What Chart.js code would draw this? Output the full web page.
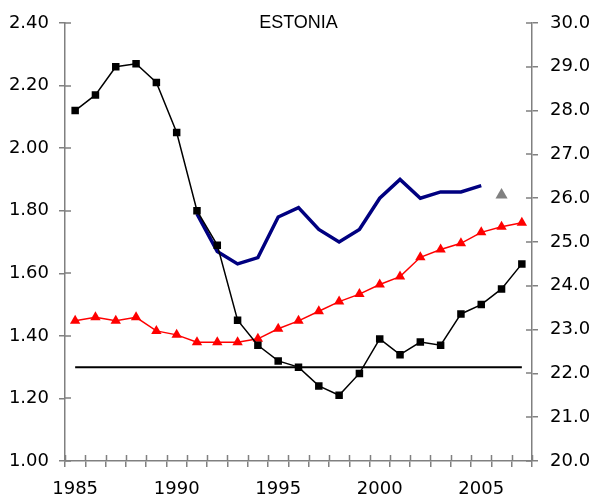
<!DOCTYPE html>
<html><head><meta charset="utf-8">
<script src="https://cdn.jsdelivr.net/npm/chart.js@4"></script>
<style>html,body{margin:0;padding:0;background:#fff}canvas{display:block}</style>
</head><body>
<canvas id="c" width="592" height="500"></canvas>
<script>
const title = 'ESTONIA';
const years = ['1985','1986','1987','1988','1989','1990','1991','1992','1993','1994','1995','1996','1997','1998','1999','2000','2001','2002','2003','2004','2005','2006','2007'];
const tfr = [2.12,2.17,2.26,2.27,2.21,2.05,1.80,1.69,1.45,1.37,1.32,1.30,1.24,1.21,1.28,1.39,1.34,1.38,1.37,1.47,1.50,1.55,1.63];
const adjTfr = [null,null,null,null,null,null,1.79,1.67,1.63,1.65,1.78,1.81,1.74,1.70,1.74,1.84,1.90,1.84,1.86,1.86,1.88,null,null];
const adjTfrLatest = [null,null,null,null,null,null,null,null,null,null,null,null,null,null,null,null,null,null,null,null,null,1.85,null];
const meanAge = [23.20,23.28,23.20,23.28,22.97,22.88,22.71,22.71,22.71,22.79,23.02,23.20,23.42,23.64,23.81,24.03,24.21,24.65,24.83,24.97,25.22,25.35,25.44];
const replacementLevel = 1.3;
const replacementSpan = [years[0], years[years.length-1]];
const leftTicks = {min:1.0, max:2.4, step:0.2};
const rightTicks = {min:20, max:30, step:1};

const FONT = "'DejaVu Sans', 'Liberation Sans', Arial, sans-serif";
const TITLE_FONT = "'Liberation Sans', Arial, sans-serif";
const AXIS = '#808080';

const decor = {
  id:'decor',
  afterDraw(chart){
    const ctx = chart.ctx, a = chart.chartArea;
    const x = chart.scales.x, y = chart.scales.y, y1 = chart.scales.y1;
    ctx.save();
    ctx.strokeStyle = AXIS; ctx.lineWidth = 1.5;
    ctx.beginPath();
    for (let i = 0; i <= years.length; i++) {
      const px = Math.round(x.getPixelForValue(i - 0.5)) + 0.5;
      ctx.moveTo(px, a.bottom); ctx.lineTo(px, a.bottom - 6);
    }
    y.ticks.forEach(t => { const py = Math.round(y.getPixelForValue(t.value)); ctx.moveTo(a.left, py); ctx.lineTo(a.left + 6, py); });
    y1.ticks.forEach(t => { const py = Math.round(y1.getPixelForValue(t.value)); ctx.moveTo(a.right, py); ctx.lineTo(a.right - 6, py); });
    ctx.stroke();
    ctx.fillStyle = '#000';
    ctx.font = '18px ' + TITLE_FONT;
    ctx.textAlign = 'center'; ctx.textBaseline = 'alphabetic';
    ctx.fillText(title, (a.left + a.right) / 2, 28);
    ctx.restore();
  }
};

new Chart(document.getElementById('c'), {
  type: 'line',
  data: {
    labels: years,
    datasets: [
      { data: tfr, yAxisID:'y', borderColor:'#000', backgroundColor:'#000', borderWidth:1.5,
        pointStyle:'rect', pointRadius:5.3, pointBorderWidth:0, tension:0 },
      { data: adjTfr, yAxisID:'y', borderColor:'#000080', borderWidth:3.5, pointRadius:0, tension:0 },
      { data: meanAge, yAxisID:'y1', borderColor:'#ff0000', backgroundColor:'#ff0000', borderWidth:1.5,
        pointStyle:'triangle', pointRadius:6, pointBorderWidth:0, tension:0 },
      { data: adjTfrLatest, yAxisID:'y', showLine:false, backgroundColor:'#808080', borderColor:'#808080',
        pointStyle:'triangle', pointRadius:7, pointBorderWidth:0 },
      { data: replacementSpan.map(v => ({x:v, y:replacementLevel})), yAxisID:'y', borderColor:'#000', borderWidth:2,
        pointRadius:0, tension:0 }
    ]
  },
  plugins:[decor],
  options: {
    responsive:false, animation:false,
    layout:{ padding:{ top:23, left:0, right:0, bottom:0 } },
    plugins:{ legend:{display:false}, tooltip:{enabled:false}, title:{display:false} },
    scales: {
      x: {
        type:'category', offset:true,
        afterFit(s){ s.height = 39; },
        grid:{ offset:true, drawOnChartArea:false, drawTicks:true, tickLength:6, color:AXIS, lineWidth:1.5 },
        border:{ color:AXIS, width:1.5 },
        ticks:{ autoSkip:false, maxRotation:0, padding:12, color:'#000', font:{family:FONT, size:18},
          callback(v, i){ const yr = +years[i]; return yr % 5 === 0 ? years[i] : ''; } }
      },
      y: {
        position:'left', min:leftTicks.min, max:leftTicks.max,
        afterFit(s){ s.width = 65; },
        grid:{ drawOnChartArea:false, drawTicks:true, tickLength:6, color:AXIS, lineWidth:1.5 },
        border:{ color:AXIS, width:1.5 },
        ticks:{ stepSize:leftTicks.step, padding:10, color:'#000', font:{family:FONT, size:18},
          callback:v => Number(v).toFixed(2) }
      },
      y1: {
        position:'right', min:rightTicks.min, max:rightTicks.max,
        afterFit(s){ s.width = 60; },
        grid:{ drawOnChartArea:false, drawTicks:true, tickLength:6, color:AXIS, lineWidth:1.5 },
        border:{ color:AXIS, width:1.5 },
        ticks:{ stepSize:rightTicks.step, padding:12, color:'#000', font:{family:FONT, size:18},
          callback:v => Number(v).toFixed(1) }
      }
    }
  }
});
</script>
</body></html>
